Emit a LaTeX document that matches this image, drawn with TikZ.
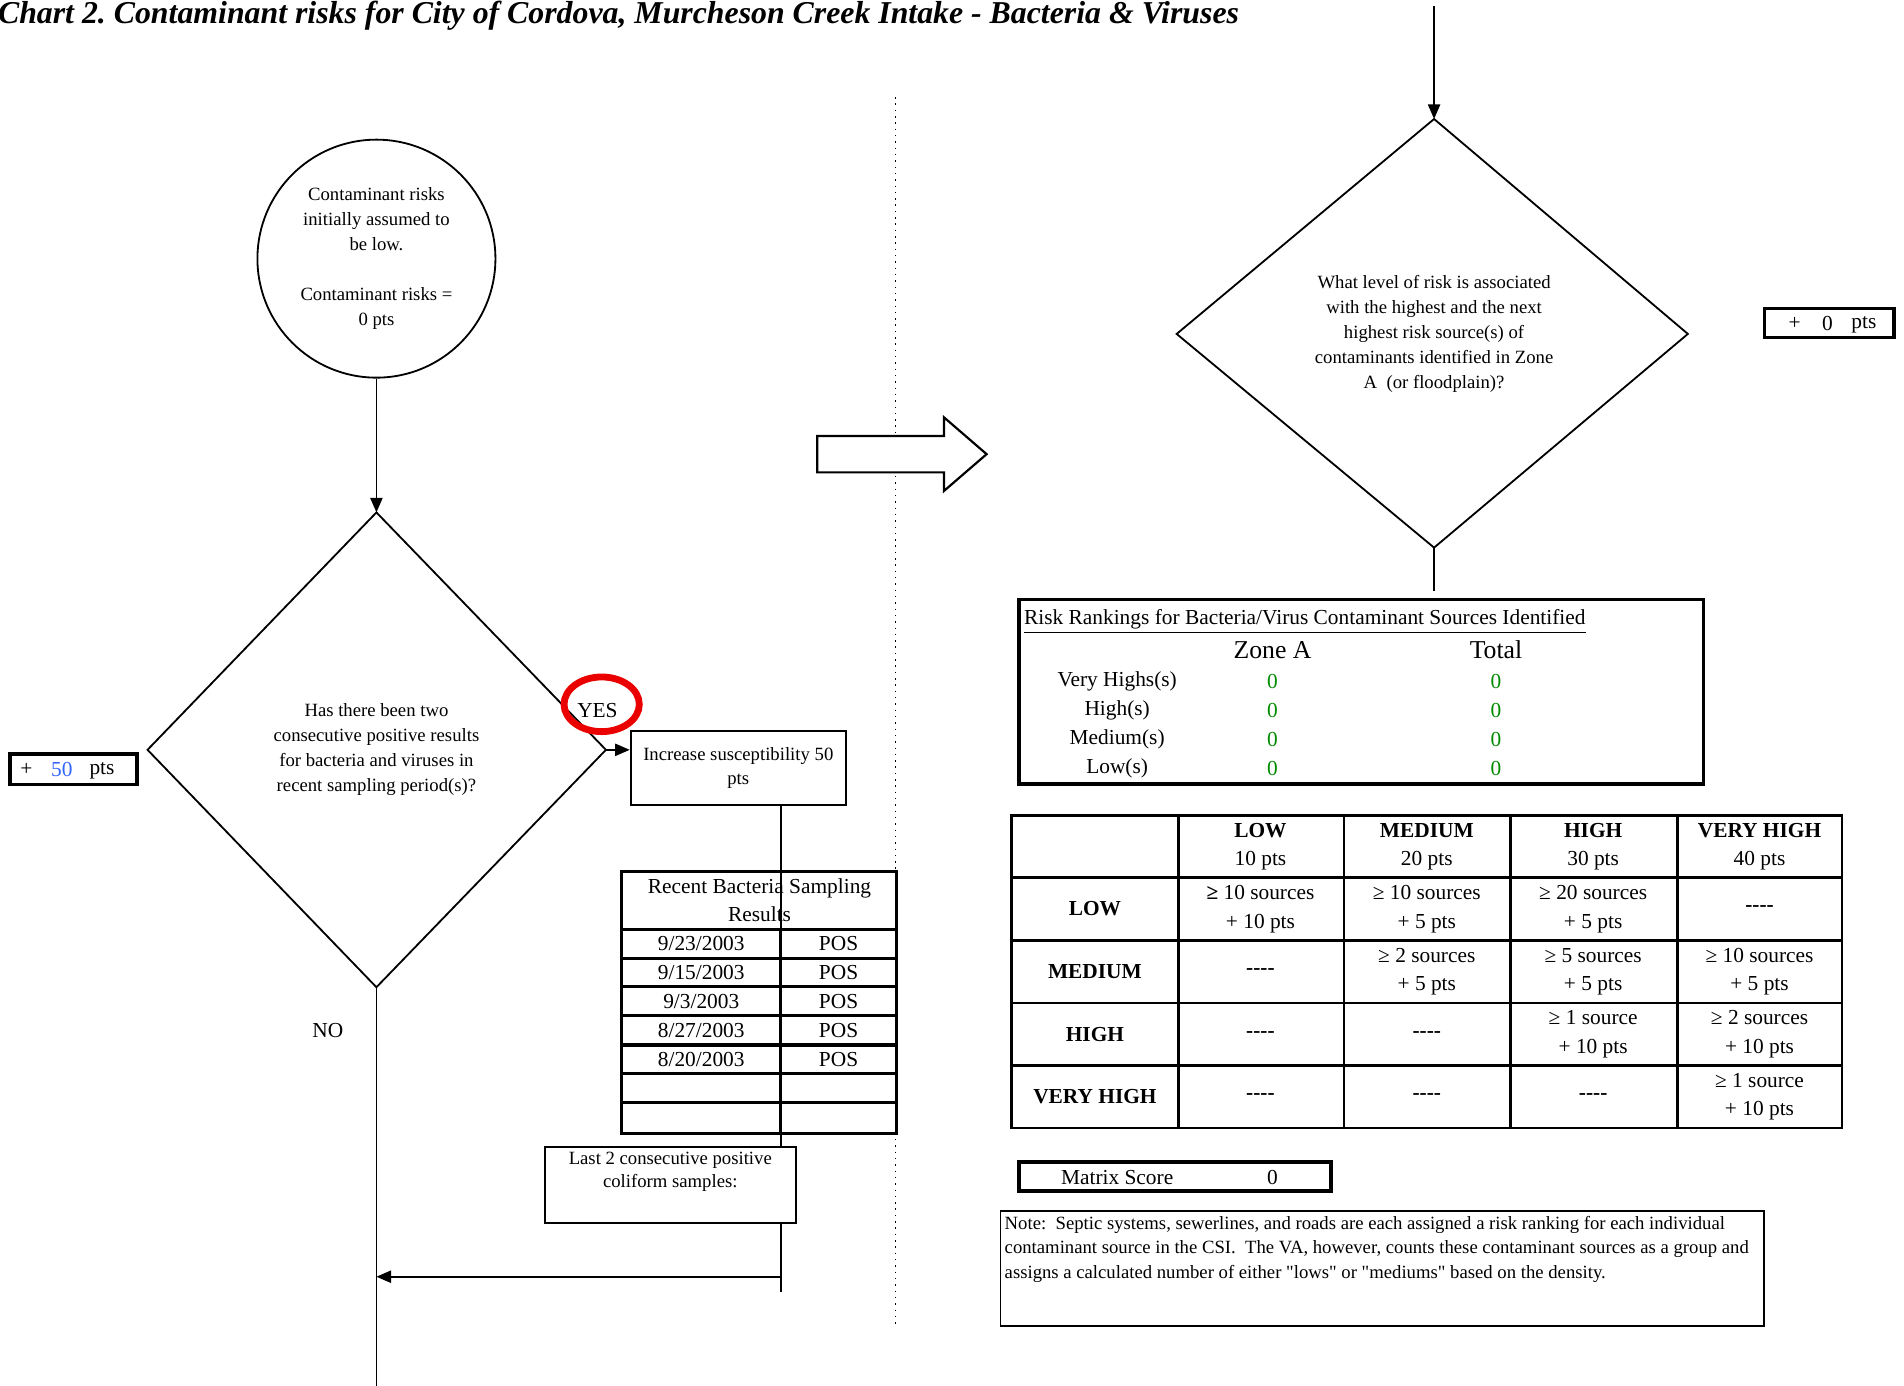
\documentclass[tikz,border=0pt]{standalone}
\usepackage{fontspec}
\setmainfont{Liberation Serif}
\newfontfamily\plainserif{Liberation Serif}
\frenchspacing
\usetikzlibrary{arrows.meta,shapes.geometric}
\newcommand\fBody{\fontsize{7.7}{10.25}\selectfont}
\newcommand\fTab{\fontsize{8.8}{11.75}\selectfont}
\newcommand\fZone{\fontsize{10.6}{12}\selectfont}
\newcommand\fTitle{\fontsize{13.1}{15}\selectfont\bfseries\itshape}
\newcommand\qdash{-{}-{}-{}-}
\definecolor{zgreen}{RGB}{0,140,0}
\definecolor{pblue}{RGB}{51,102,255}
\definecolor{yesred}{RGB}{235,0,0}
\begin{document}
\begin{tikzpicture}[x=0.5pt,y=-0.5pt,
  thin/.style={line width=0.75pt},
  arr/.style={line width=0.75pt,-{Triangle[length=6pt,width=5pt]}},
  tbl/.style={line width=1.4pt},
  mtx/.style={line width=1.1pt},
  boxn/.style={draw,line width=0.9pt,inner sep=0,fill=white},
  thickbox/.style={draw,line width=1.5pt,inner sep=0},
  txt/.style={font=\fBody,align=center,inner sep=0},
  ttxt/.style={font=\fTab,align=center,inner sep=0},
  ztxt/.style={font=\fZone,inner sep=0},
  gtxt/.style={font=\fTab,inner sep=0,text=zgreen}]
\useasboundingbox (0,0) rectangle (1568,1141);
\fill[white] (0,0) rectangle (1568,1141);

% title
\node[anchor=base west,inner sep=0,font=\fTitle] (title) at (-2,19)
  {Chart 2. Contaminant risks for City of Cordova, Murcheson Creek Intake - Bacteria \& Viruses};

% dotted divider
\coordinate (divtop) at (737.6,80);
\coordinate (divbot) at (737.6,1090);
\draw[dotted,line width=0.6pt] (divtop) -- (divbot);

% start circle
\node[draw,circle,thin,minimum size=98pt,txt] (start) at (310,213)
  {Contaminant risks\\initially assumed to\\be low.\\[10.25pt]Contaminant risks =\\0 pts};

% diamond 1
\coordinate (d1t) at (310,422);
\coordinate (d1r) at (499,617.5);
\coordinate (d1b) at (310,813);
\coordinate (d1l) at (121.5,617.5);
\draw[thin] (d1t) -- (d1r) -- (d1b) -- (d1l) -- cycle;
\node[txt] (q1) at (310,617.5)
  {Has there been two\\consecutive positive results\\for bacteria and viruses in\\recent sampling period(s)?};
\draw[arr] (start.south) -- (d1t);

% + 50 pts
\node[thickbox,minimum width=52.3pt,minimum height=12.5pt] (b50) at (60.3,633.5) {};
\node[ttxt] (b50p) at (21.8,634) {+};
\node[ttxt,text=pblue] (b50n) at (51,634) {50};
\node[ttxt] (b50u) at (84,635) {pts};

% YES
\node[ttxt] (yes) at (492,585) {YES};
\node[draw=yesred,line width=2.8pt,ellipse,minimum width=31pt,minimum height=22.5pt,inner sep=0] (yesring) at (495.5,580) {};

% increase box
\node[boxn,minimum width=88.5pt,minimum height=30.5pt,txt] (inc) at (608,632.5)
  {Increase susceptibility 50\\pts};
\draw[arr] (d1r) -- (d1r -| inc.west);

% NO
\node[ttxt] (no) at (270,849) {NO};

% main line down
\coordinate (bot) at (310,1141);
\draw[thin] (d1b) -- (bot);

% sampling table
\draw[tbl] (512,717.8) rectangle (738.4,933.3);
\foreach \yy in {765.3,789.2,812.6,836.5,860.6,883.9,907.8}
  \draw[tbl] (512,\yy) -- (738.4,\yy);
\draw[tbl] (642.9,765.3) -- (642.9,933.3);
\node[ttxt] (samphead) at (625.5,741.5) {Recent Bacteria Sampling\\Results};
\node[ttxt] (s1d) at (577.5,777.3) {9/23/2003};
\node[ttxt] (s1p) at (690.6,777.3) {POS};
\node[ttxt] (s2d) at (577.5,800.9) {9/15/2003};
\node[ttxt] (s2p) at (690.6,800.9) {POS};
\node[ttxt] (s3d) at (577.5,824.6) {9/3/2003};
\node[ttxt] (s3p) at (690.6,824.6) {POS};
\node[ttxt] (s4d) at (577.5,848.6) {8/27/2003};
\node[ttxt] (s4p) at (690.6,848.6) {POS};
\node[ttxt] (s5d) at (577.5,872.3) {8/20/2003};
\node[ttxt] (s5p) at (690.6,872.3) {POS};

% return line
\coordinate (vend) at (642.9,1063.7);
\coordinate (hstart) at (642.9,1051.4);
\draw[thin] (vend |- inc.south) -- (vend);
\draw[arr] (hstart) -- (hstart -| d1b);

% coliform box
\node[boxn,minimum width=103.25pt,minimum height=31.3pt] (coli) at (552,975.6) {};
\node[txt,font=\fontsize{7.7}{9.6}\selectfont] (colitext) at (552,965) {Last 2 consecutive positive\\coliform samples:};

% block arrow
\draw[line width=0.9pt,fill=white] (673,359) -- (777.4,359) -- (777.4,343.7) -- (812.5,374)
  -- (777.4,404.3) -- (777.4,389) -- (673,389) -- cycle;

% right side: diamond 2
\coordinate (toparr) at (1181,5);
\coordinate (d2t) at (1181,98);
\coordinate (d2r) at (1390,275);
\coordinate (d2b) at (1181,451);
\coordinate (d2l) at (969,275);
\draw[thin] (d2t) -- (d2r) -- (d2b) -- (d2l) -- cycle;
\draw[arr] (toparr) -- (d2t);
\node[txt] (q2) at (1181,275)
  {What level of risk is associated\\with the highest and the next\\highest risk source(s) of\\contaminants identified in Zone\\A~ (or floodplain)?};
\coordinate (d2end) at (1181,487);
\draw[thin] (d2b) -- (d2end);

% + 0 pts
\node[thickbox,minimum width=53.5pt,minimum height=12pt] (b0) at (1506.5,266) {};
\node[ttxt] (b0p) at (1478,266.5) {+};
\node[ttxt] (b0n) at (1505,266.5) {0};
\node[ttxt] (b0u) at (1535,267.5) {pts};

% risk rankings box
\node[thickbox,minimum width=281.8pt,minimum height=75.9pt] (rr) at (1121.2,569.7) {};
\node[anchor=base west,inner sep=0,font=\fTab] (rrtitle) at (843,514.5)
  {\underline{Risk Rankings for Bacteria/Virus Contaminant Sources Identified}};
\node[ztxt] (zonea) at (1048,535) {Zone A};
\node[ztxt] (total) at (1232,535) {Total};
\node[ttxt] (l1) at (920,561) {Very Highs(s)};
\node[ttxt] (l2) at (920,585) {High(s)};
\node[ttxt] (l3) at (920,609) {Medium(s)};
\node[ttxt] (l4) at (920,633) {Low(s)};
\node[gtxt] (z1) at (1048,561) {0};
\node[gtxt] (z2) at (1048,585) {0};
\node[gtxt] (z3) at (1048,609) {0};
\node[gtxt] (z4) at (1048,633) {0};
\node[gtxt] (t1) at (1232,561) {0};
\node[gtxt] (t2) at (1232,585) {0};
\node[gtxt] (t3) at (1232,609) {0};
\node[gtxt] (t4) at (1232,633) {0};

% matrix
\draw[mtx] (833,671.5) rectangle (1517,928.8);
\foreach \xx in {970.4,1106.9,1244,1381.5}
  \draw[mtx] (\xx,671.5) -- (\xx,928.8);
\foreach \yy in {722.8,774.3,826,877.6}
  \draw[mtx] (833,\yy) -- (1517,\yy);
% header
\node[ttxt] (h1) at (1038,697.2) {\textbf{LOW}\\10 pts};
\node[ttxt] (h2) at (1175,697.2) {\textbf{MEDIUM}\\20 pts};
\node[ttxt] (h3) at (1312,697.2) {\textbf{HIGH}\\30 pts};
\node[ttxt] (h4) at (1449,697.2) {\textbf{VERY HIGH}\\40 pts};
% row labels
\node[ttxt,font=\fTab\bfseries] (rl1) at (901.7,748.5) {LOW};
\node[ttxt,font=\fTab\bfseries] (rl2) at (901.7,800.2) {MEDIUM};
\node[ttxt,font=\fTab\bfseries] (rl3) at (901.7,851.8) {HIGH};
\node[ttxt,font=\fTab\bfseries] (rl4) at (901.7,903.2) {VERY HIGH};
% LOW row
\node[ttxt] (c11) at (1038,748.5) {\textbf{≥} 10 sources\\+ 10 pts};
\node[ttxt] (c12) at (1175,748.5) {≥ 10 sources\\+ 5 pts};
\node[ttxt] (c13) at (1312,748.5) {≥ 20 sources\\+ 5 pts};
\node[ttxt,font=\fTab\bfseries] (c14) at (1449,748.5) {\qdash};
% MEDIUM row
\node[ttxt,font=\fTab\bfseries] (c21) at (1038,800.2) {\qdash};
\node[ttxt] (c22) at (1175,800.2) {≥ 2 sources\\+ 5 pts};
\node[ttxt] (c23) at (1312,800.2) {≥ 5 sources\\+ 5 pts};
\node[ttxt] (c24) at (1449,800.2) {≥ 10 sources\\+ 5 pts};
% HIGH row
\node[ttxt,font=\fTab\bfseries] (c31) at (1038,851.8) {\qdash};
\node[ttxt,font=\fTab\bfseries] (c32) at (1175,851.8) {\qdash};
\node[ttxt] (c33) at (1312,851.8) {≥ 1 source\\+ 10 pts};
\node[ttxt] (c34) at (1449,851.8) {≥ 2 sources\\+ 10 pts};
% VERY HIGH row
\node[ttxt,font=\fTab\bfseries] (c41) at (1038,903.2) {\qdash};
\node[ttxt,font=\fTab\bfseries] (c42) at (1175,903.2) {\qdash};
\node[ttxt,font=\fTab\bfseries] (c43) at (1312,903.2) {\qdash};
\node[ttxt] (c44) at (1449,903.2) {≥ 1 source\\+ 10 pts};

% matrix score
\node[thickbox,minimum width=128.5pt,minimum height=12pt] (ms) at (967.5,969) {};
\node[ttxt] (mslabel) at (920,969.5) {Matrix Score};
\node[ttxt] (msval) at (1048,969.5) {0};

% note
\node[draw,thin,minimum width=314.5pt,minimum height=47.5pt,inner sep=0] (note) at (1138.5,1044.5) {};
\node[anchor=base west,inner sep=0,font=\fBody] (note1) at (827,1012.5)
  {Note:~ Septic systems, sewerlines, and roads are each assigned a risk ranking for each individual};
\node[anchor=base west,inner sep=0,font=\fBody] (note2) at (827,1032.5)
  {contaminant source in the CSI.~ The VA, however, counts these contaminant sources as a group and};
\node[anchor=base west,inner sep=0,font=\fBody\plainserif] (note3) at (827,1052.5)
  {assigns a calculated number of either "lows" or "mediums" based on the density.};
\end{tikzpicture}
\end{document}
